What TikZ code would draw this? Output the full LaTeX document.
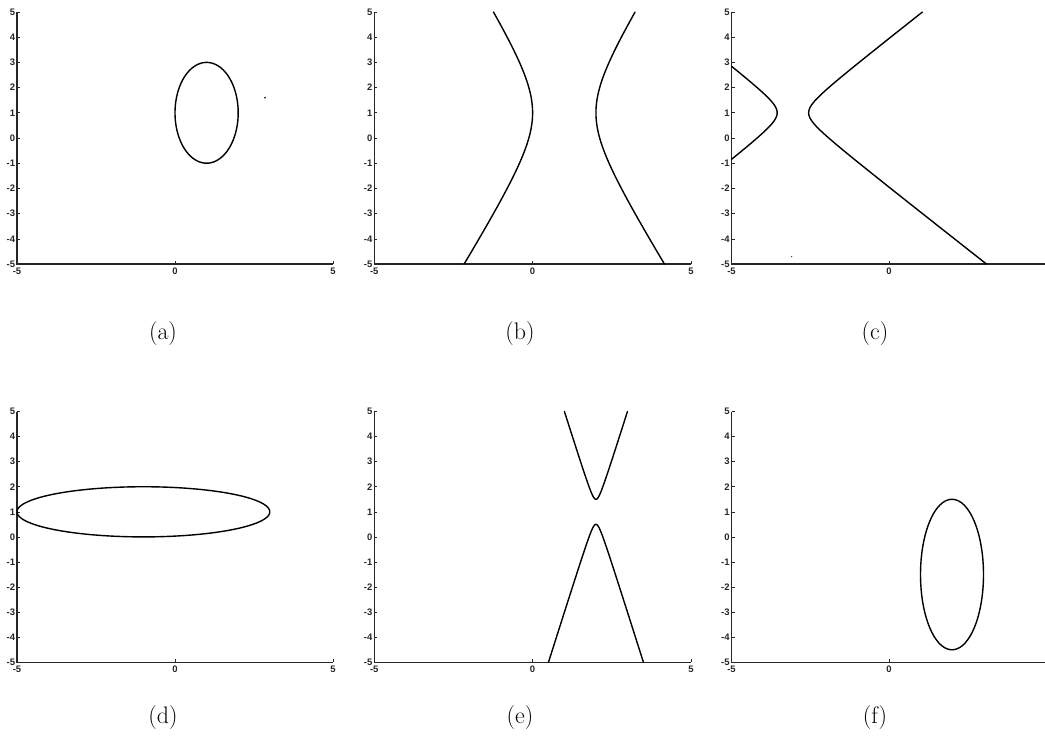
\documentclass[tikz,border=0pt]{standalone}
\usepackage{fontspec}
\setsansfont{Liberation Sans}
\tikzset{
  axisline/.style={line width=1.1bp, black!85},
  tickline/.style={line width=0.6bp, black!85},
  curve/.style={line width=1.4bp, black, line join=round, line cap=round},
  ticklab/.style={font=\sffamily\bfseries\fontsize{9.5}{10}\selectfont, text=black!85, inner sep=0.5bp},
  caplab/.style={font=\fontsize{24}{28}\selectfont, inner sep=0pt},
  speck/.style={fill=black, draw=none, inner sep=0pt, minimum size=1.8bp, circle},
}
\newcommand\panelaxes[2]{%
  \coordinate (#1-o) at (-5,-5);
  \coordinate (#1-t) at (-5,5);
  \coordinate (#1-r) at (5,-5);
  \draw[axisline] (#1-t) -- (#1-o) -- (#1-r);
  \foreach \k in {-5,...,5}{%
    \coordinate (#1-yt\k) at (-5,\k);
    \draw[tickline] (#1-yt\k) -- ++(3bp,0);
    \node[ticklab, anchor=east, xshift=-1.2bp] (#1-y\k) at (#1-yt\k) {\k};
  }
  \foreach \k in {#2}{%
    \coordinate (#1-xt\k) at (\k,-5);
    \draw[tickline] (#1-xt\k) -- ++(0,3bp);
    \node[ticklab, anchor=north, yshift=-3.2bp] (#1-x\k) at (#1-xt\k) {\k};
  }
}
\begin{document}
\begin{tikzpicture}[x=1bp, y=-1bp]
  \useasboundingbox (0,0) rectangle (1045,748);

  % (a)
  \begin{scope}[shift={(175,138)}, x=31.6bp, y=25.2bp]
    \panelaxes{a}{-5,0,5}
    \draw[curve] plot[domain=0:360, samples=120, variable=\t] ({1+cos(\t)},{1+2*sin(\t)}) -- cycle;
    \node[speck] (a-dot) at (2.85,1.6) {};
  \end{scope}

  % (b)
  \begin{scope}[shift={(532.6,138)}, x=31.67bp, y=25.2bp]
    \panelaxes{b}{-5,0,5}
    \draw[curve] plot[domain=-1.8184:1.4436, samples=100, variable=\t] ({1-cosh(\t)},{1+2*sinh(\t)});
    \draw[curve] plot[domain=-1.8184:1.4436, samples=100, variable=\t] ({1+cosh(\t)},{1+2*sinh(\t)});
  \end{scope}

  % (c)
  \begin{scope}[shift={(889,138)}, x=31.5bp, y=25.2bp]
    \panelaxes{c}{-5,0}
    \draw[curve] plot[domain=-2.0373:2.0373, samples=100, variable=\t] ({-3.05-0.5*cosh(\t)},{1+0.49*sinh(\t)});
    \draw[curve] plot[domain=-3.2:2.7965, samples=120, variable=\t] ({-3.05+0.5*cosh(\t)},{1+0.49*sinh(\t)});
    \node[speck, minimum size=1.2bp] (c-dot) at (-3.09,-4.71) {};
  \end{scope}

  % (d)
  \begin{scope}[shift={(175,536.9)}, x=31.6bp, y=25.08bp]
    \panelaxes{d}{-5,0,5}
    \draw[curve] plot[domain=0:360, samples=150, variable=\t] ({-1+4*cos(\t)},{1+sin(\t)}) -- cycle;
  \end{scope}

  % (e)
  \begin{scope}[shift={(532.6,536.9)}, x=31.67bp, y=25.08bp]
    \panelaxes{e}{-5,0,5}
    \draw[curve] plot[domain=-2.7687:2.7687, samples=120, variable=\t] ({2+0.1254*sinh(\t)},{1+0.5*cosh(\t)});
    \draw[curve] plot[domain=-3.1769:3.1769, samples=120, variable=\t] ({2+0.1254*sinh(\t)},{1-0.5*cosh(\t)});
  \end{scope}

  % (f)
  \begin{scope}[shift={(889,536.9)}, x=31.5bp, y=25.08bp]
    \panelaxes{f}{-5,0}
    \draw[curve] plot[domain=0:360, samples=120, variable=\t] ({2+cos(\t)},{-1.5+3*sin(\t)}) -- cycle;
  \end{scope}

  % captions
  \node[caplab] (cap-a) at (163,334) {(a)};
  \node[caplab] (cap-b) at (520,334) {(b)};
  \node[caplab] (cap-c) at (875,334) {(c)};
  \node[caplab] (cap-d) at (163,718) {(d)};
  \node[caplab] (cap-e) at (520,718) {(e)};
  \node[caplab] (cap-f) at (875,718) {(f)};
\end{tikzpicture}
\end{document}
